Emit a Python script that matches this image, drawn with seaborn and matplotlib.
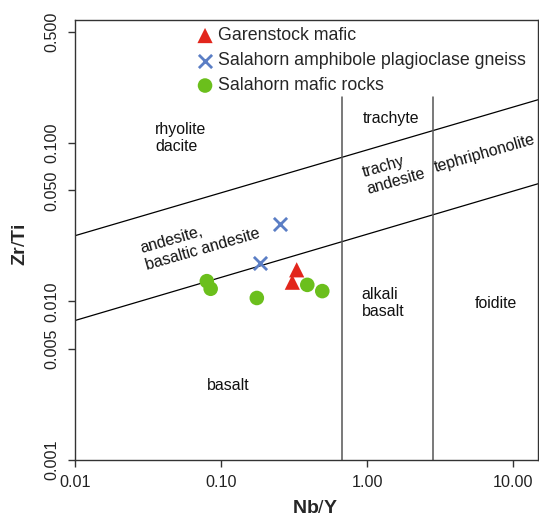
import numpy as np
import pandas as pd
import matplotlib
matplotlib.use("Agg")
import matplotlib.pyplot as plt
import seaborn as sns

sns.set_theme(style="ticks")
plt.rcParams["font.family"] = ["Liberation Sans", "DejaVu Sans"]
plt.rcParams["mathtext.fontset"] = "custom"
plt.rcParams["mathtext.rm"] = "Liberation Sans"
plt.rcParams["mathtext.bf"] = "Liberation Sans:bold"

# ── Data ─────────────────────────────────────────────────────────────────────
GROUPS = ["Garenstock mafic", "Salahorn amphibole plagioclase gneiss", "Salahorn mafic rocks"]

garenstock_nby = [0.330, 0.308]
garenstock_zrti = [0.0158, 0.0132]

gneiss_nby = [0.254, 0.185]
gneiss_zrti = [0.0307, 0.0175]

mafic_nby = [0.080, 0.085, 0.176, 0.390, 0.494]
mafic_zrti = [0.0134, 0.0120, 0.0105, 0.0127, 0.0116]

# field boundaries (log-log)
upper_nby = [0.01, 14.8]
upper_zrti = [0.0259, 0.186]
lower_nby = [0.01, 14.8]
lower_zrti = [0.00757, 0.055]
vert_nby = [0.67, 2.83]
vert_zrti = [0.001, 0.195]

XTICKS = [0.01, 0.1, 1, 10]
XTICKLABELS = ["0.01", "0.10", "1.00", "10.00"]
YTICKS = [0.001, 0.005, 0.01, 0.05, 0.1, 0.5]
YTICKLABELS = ["0.001", "0.005", "0.010", "0.050", "0.100", "0.500"]

FIELDS = [
    ("rhyolite\ndacite", 0.0353, 0.107, 0, "left"),
    ("andesite,\nbasaltic andesite", 0.0718, 0.0241, 16, "center"),
    ("trachyte", 1.46, 0.142, 0, "center"),
    ("trachy\nandesite", 1.53, 0.0647, 16, "center"),
    ("tephriphonolite", 6.4, 0.085, 16, "center"),
    ("alkali\nbasalt", 0.92, 0.0098, 0, "left"),
    ("foidite", 7.62, 0.0097, 0, "center"),
    ("basalt", 0.113, 0.00295, 0, "center"),
]

RED = "#E2261C"
BLUE = "#5B7EC5"
GREEN = "#6BBF1C"

df = pd.concat([
    pd.DataFrame({"nby": garenstock_nby, "zrti": garenstock_zrti, "group": GROUPS[0]}),
    pd.DataFrame({"nby": gneiss_nby, "zrti": gneiss_zrti, "group": GROUPS[1]}),
    pd.DataFrame({"nby": mafic_nby, "zrti": mafic_zrti, "group": GROUPS[2]}),
], ignore_index=True)

fig = plt.figure(figsize=(5.39, 5.17), dpi=100)
ax = fig.add_axes([0.139, 0.110, 0.859, 0.851])

# boundaries
ax.plot(upper_nby, upper_zrti, color="black", lw=0.9, zorder=1)
ax.plot(lower_nby, lower_zrti, color="black", lw=0.9, zorder=1)
for xv in vert_nby:
    ax.plot([xv, xv], vert_zrti, color="#555555", lw=1.1, zorder=1)

# points
sub = df[df.group == GROUPS[0]]
sns.scatterplot(data=sub, x="nby", y="zrti", marker="^", s=120, color=RED,
                edgecolor="none", label=GROUPS[0], ax=ax, zorder=3)
sub = df[df.group == GROUPS[1]]
sns.scatterplot(data=sub, x="nby", y="zrti", marker="x", s=90, color=BLUE,
                linewidth=2, label=GROUPS[1], ax=ax, zorder=3)
sub = df[df.group == GROUPS[2]]
sns.scatterplot(data=sub, x="nby", y="zrti", marker="o", s=110, color=GREEN,
                edgecolor="none", label=GROUPS[2], ax=ax, zorder=3)

ax.set_xscale("log")
ax.set_yscale("log")
ax.set_xlim(0.01, 14.8)
ax.set_ylim(0.001, 0.59)
ax.set_xticks(XTICKS)
ax.set_xticklabels(XTICKLABELS, fontsize=11.6)
ax.set_yticks(YTICKS)
ax.set_yticklabels(YTICKLABELS, fontsize=11.6, rotation=90, va="center")
ax.minorticks_off()
ax.tick_params(direction="out", length=5, width=1, pad=6,
               color="#333333", labelcolor="#222222")

for sp in ax.spines.values():
    sp.set_color("#333333")
    sp.set_linewidth(1)

for txt, x, y, rot, ha in FIELDS:
    ax.text(x, y, txt, fontsize=11.4, rotation=rot, ha=ha, va="center",
            multialignment="left", rotation_mode="anchor", color="#111111")

ax.set_xlabel(r"$\mathbf{Nb}\mathrm{/}\mathbf{Y}$", fontsize=14)
ax.set_ylabel(r"$\mathbf{Zr}\mathrm{/}\mathbf{Ti}$", fontsize=14)
ax.xaxis.set_label_coords(0.518, -0.090)
ax.yaxis.set_label_coords(-0.100, 0.49)

ax.legend(loc="upper left", bbox_to_anchor=(0.258, 0.984), frameon=False,
          fontsize=12.8, handletextpad=0.15, borderpad=0, borderaxespad=0,
          labelspacing=0.45, handlelength=1.2)

fig.savefig("out.png", dpi=100)
